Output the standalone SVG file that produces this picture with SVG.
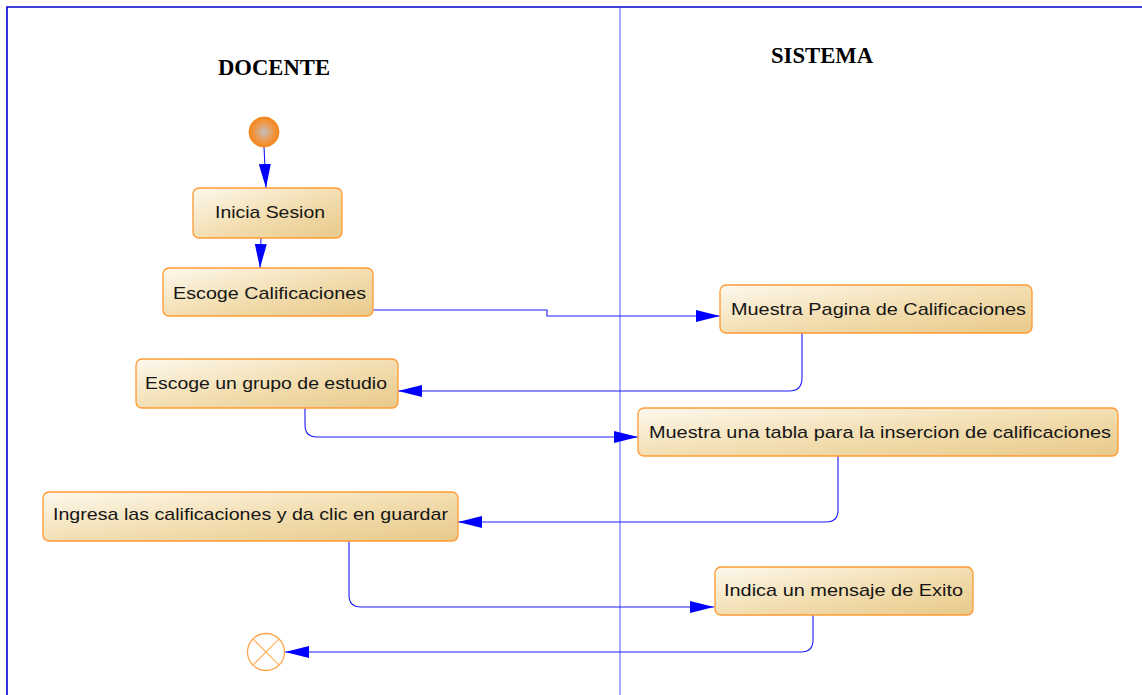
<svg xmlns="http://www.w3.org/2000/svg" width="1142" height="695" viewBox="0 0 1142 695">
<defs>
<linearGradient id="boxg" x1="0" y1="0" x2="1" y2="1">
<stop offset="0" stop-color="#fdf8ee"/>
<stop offset="0.5" stop-color="#f3dfb3"/>
<stop offset="1" stop-color="#e8c98a"/>
</linearGradient>
<radialGradient id="startg" cx="0.5" cy="0.5" r="0.5">
<stop offset="0" stop-color="#c4c0bc"/>
<stop offset="0.6" stop-color="#ec9a4e"/>
<stop offset="1" stop-color="#f5861a"/>
</radialGradient>
<marker id="arr" markerUnits="userSpaceOnUse" markerWidth="24" markerHeight="12" refX="24" refY="6" orient="auto">
<path d="M0,0 L24,6 L0,12 z" fill="#0000ff"/>
</marker>
<style>
.box{fill:url(#boxg);stroke:#ff9a33;stroke-width:1.3}
.lbl{font-family:"Liberation Sans",Arial,sans-serif;font-size:17px;fill:#151515}
.title{font-family:"Liberation Serif","Times New Roman",serif;font-weight:bold;fill:#000}
.con{fill:none;stroke:#1a1aff;stroke-width:1.1}
.frame{stroke:#0000cc;stroke-width:1.6;fill:none}
</style>
</defs>
<rect width="1142" height="695" fill="#ffffff"/>
<g id="frame">
<path class="frame" d="M7,695 V7 H1142"/>
<line x1="620" y1="7" x2="620" y2="695" stroke="#5555ff" stroke-width="1"/>
<text class="title" x="218" y="75" font-size="24" textLength="112" lengthAdjust="spacingAndGlyphs">DOCENTE</text>
<text class="title" x="771" y="63" font-size="23" textLength="102" lengthAdjust="spacingAndGlyphs">SISTEMA</text>
</g>
<g id="connectors">
<path class="con" marker-end="url(#arr)" d="M264,147 L266,188"/>
<path class="con" marker-end="url(#arr)" d="M261,238 L260,268"/>
<path class="con" marker-end="url(#arr)" d="M373,310 H547 V316 H720"/>
<path class="con" marker-end="url(#arr)" d="M802,333 V378 Q802,391 789,391 H398"/>
<path class="con" marker-end="url(#arr)" d="M305,408 V425 Q305,437 317,437 H638"/>
<path class="con" marker-end="url(#arr)" d="M838,456 V510 Q838,522 826,522 H458"/>
<path class="con" marker-end="url(#arr)" d="M349,541 V595 Q349,607 361,607 H714"/>
<path class="con" marker-end="url(#arr)" d="M813,615 V640 Q813,652 801,652 H285"/>
</g>
<g id="start">
<circle cx="264" cy="132" r="15" fill="url(#startg)" stroke="#f5861a" stroke-width="1"/>
</g>
<g id="inicia">
<rect class="box" x="193" y="188" width="149" height="50" rx="6"/>
<text class="lbl" x="215" y="218" textLength="110" lengthAdjust="spacingAndGlyphs">Inicia Sesion</text>
</g>
<g id="escoge-calif">
<rect class="box" x="163" y="268" width="210" height="48" rx="6"/>
<text class="lbl" x="173" y="299" textLength="193" lengthAdjust="spacingAndGlyphs">Escoge Calificaciones</text>
</g>
<g id="muestra-pagina">
<rect class="box" x="720" y="285" width="312" height="48" rx="6"/>
<text class="lbl" x="731" y="315" textLength="295" lengthAdjust="spacingAndGlyphs">Muestra Pagina de Calificaciones</text>
</g>
<g id="escoge-grupo">
<rect class="box" x="136" y="359" width="262" height="49" rx="6"/>
<text class="lbl" x="145" y="389" textLength="242" lengthAdjust="spacingAndGlyphs">Escoge un grupo de estudio</text>
</g>
<g id="muestra-tabla">
<rect class="box" x="638" y="408" width="480" height="48" rx="6"/>
<text class="lbl" x="649" y="438" textLength="462" lengthAdjust="spacingAndGlyphs">Muestra una tabla para la insercion de calificaciones</text>
</g>
<g id="ingresa">
<rect class="box" x="43" y="492" width="415" height="49" rx="6"/>
<text class="lbl" x="53" y="520" textLength="395" lengthAdjust="spacingAndGlyphs">Ingresa las calificaciones y da clic en guardar</text>
</g>
<g id="indica">
<rect class="box" x="715" y="567" width="258" height="48" rx="6"/>
<text class="lbl" x="724" y="596" textLength="239" lengthAdjust="spacingAndGlyphs">Indica un mensaje de Exito</text>
</g>
<g id="end">
<circle cx="266" cy="652" r="18.5" fill="#ffffff" stroke="#ffa64d" stroke-width="1.3"/>
<path d="M252.9,638.9 L279.1,665.1 M279.1,638.9 L252.9,665.1" stroke="#ffb366" stroke-width="1.3"/>
</g>
</svg>
